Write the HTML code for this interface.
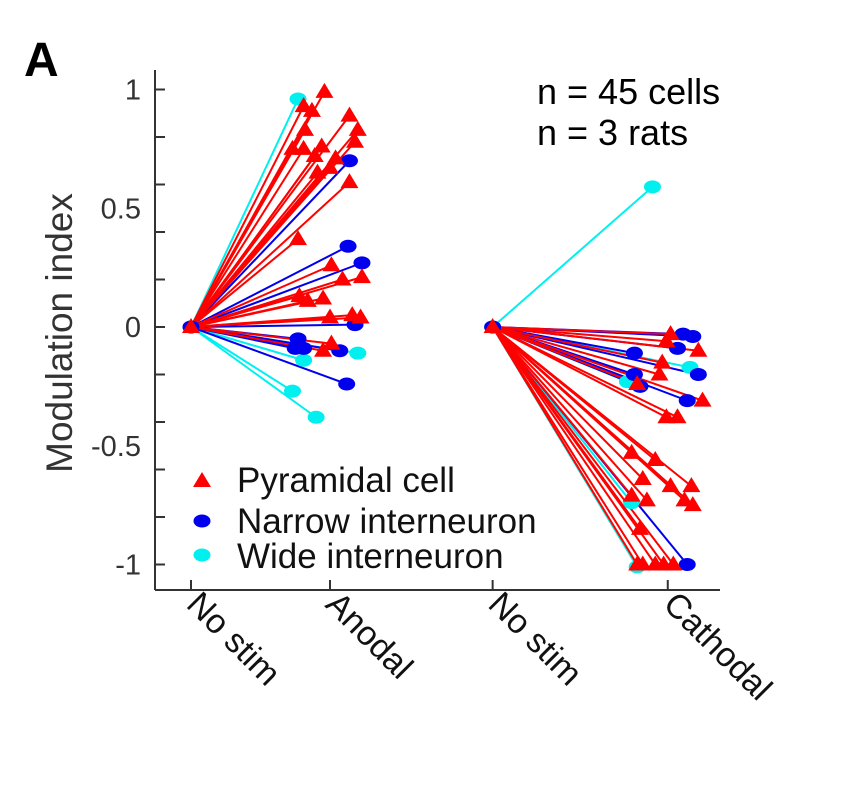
<!DOCTYPE html>
<html><head><meta charset="utf-8"><style>
body{margin:0;background:#fff;}
svg text{font-family:"Liberation Sans",Arial,sans-serif;}
</style></head><body>
<svg id="chart" width="843" height="790" viewBox="0 0 843 790">
<text x="24" y="76" font-size="48" font-weight="bold">A</text>
<text x="537" y="104" font-size="36">n = 45 cells</text>
<text x="537" y="145" font-size="36">n = 3 rats</text>
<g id="axes"></g>
<g id="lines"></g>
<g id="marks"></g>
<g id="legend"></g>
</svg>
<script>
const categories = ["No stim","Anodal","No stim","Cathodal"];
const categoryX = [0, 1, 2.17, 3.43];
const yTickLabels = [1, 0.5, 0, -0.5, -1];
const yMinorTicks = [1,0.8,0.6,0.4,0.2,0,-0.2,-0.4,-0.6,-0.8,-1];
const anodalOrigin = [0, 0];
const cathodalOrigin = [2.17, 0];
const anodalPyramidal = [[0.96,0.99],[0.81,0.93],[0.87,0.91],[1.14,0.89],[1.20,0.83],[0.82,0.83],[1.18,0.78],[0.73,0.75],[0.81,0.75],[0.94,0.76],[1.04,0.71],[0.89,0.72],[1.00,0.67],[0.91,0.65],[1.14,0.61],[0.77,0.37],[1.01,0.26],[1.23,0.21],[1.09,0.20],[0.78,0.13],[0.95,0.12],[0.84,0.11],[1.00,0.04],[1.16,0.05],[1.22,0.04],[1.01,-0.07],[0.95,-0.10]];
const anodalNarrow = [[1.14,0.70],[1.13,0.34],[1.23,0.27],[1.18,0.01],[0.77,-0.05],[0.75,-0.09],[0.81,-0.09],[1.07,-0.10],[1.12,-0.24]];
const anodalWide = [[0.77,0.96],[0.81,-0.14],[1.20,-0.11],[0.73,-0.27],[0.90,-0.38]];
const cathodalPyramidal = [[3.45,-0.03],[3.42,-0.06],[3.65,-0.10],[3.39,-0.15],[3.37,-0.20],[3.21,-0.24],[3.68,-0.31],[3.42,-0.38],[3.50,-0.38],[3.17,-0.53],[3.34,-0.56],[3.25,-0.64],[3.45,-0.67],[3.60,-0.67],[3.17,-0.71],[3.28,-0.73],[3.55,-0.73],[3.61,-0.75],[3.23,-0.85],[3.25,-1.0],[3.34,-1.0],[3.40,-1.0],[3.47,-1.0],[3.21,-1.0]];
const cathodalNarrow = [[3.54,-0.03],[3.61,-0.04],[3.50,-0.09],[3.19,-0.11],[3.65,-0.20],[3.19,-0.20],[3.23,-0.25],[3.57,-0.31],[3.57,-1.0]];
const cathodalWide = [[3.32,0.59],[3.59,-0.17],[3.17,-0.74],[3.21,-1.01],[3.14,-0.23]];

const NS="http://www.w3.org/2000/svg";
const xs = v => 191 + v*139;
const ys = v => 327 - v*237.5;
function mk(parent, tag, attrs){const e=document.createElementNS(NS,tag);for(const k in attrs)e.setAttribute(k,attrs[k]);parent.appendChild(e);return e;}
const axes=document.getElementById('axes'), lines=document.getElementById('lines'), marks=document.getElementById('marks'), legend=document.getElementById('legend');

let el=mk(axes,'line',{x1:155,y1:70,x2:155,y2:590,stroke:'#333','stroke-width':2});


el=mk(axes,'line',{x1:155,y1:590,x2:720,y2:590,stroke:'#333','stroke-width':2});


yMinorTicks.forEach(v=>{
  const t=mk(axes,'line',{x1:155,y1:ys(v),x2:165,y2:ys(v),stroke:'#333','stroke-width':2});
  
  
});
yTickLabels.forEach(v=>{
  const t=mk(axes,'text',{x:141,y:ys(v)+10,'font-size':29,'text-anchor':'end',fill:'#333'});
  t.textContent=String(v);
  
  
});
const yt=mk(axes,'text',{x:0,y:0,'font-size':37,'text-anchor':'middle',fill:'#333',transform:'translate(72,333) rotate(-90)'});
yt.textContent='Modulation index';


categories.forEach((c,i)=>{
  const x=xs(categoryX[i]);
  const t=mk(axes,'line',{x1:x,y1:590,x2:x,y2:580,stroke:'#333','stroke-width':2});
  
  
  const l=mk(axes,'text',{x:0,y:0,'font-size':34,fill:'#111',transform:`translate(${x-6},${606}) rotate(45)`});
  l.textContent=c;
  
  
});

function tri(parent,cx,cy){return mk(parent,'polygon',{points:`${cx-9},${cy+6} ${cx+9},${cy+6} ${cx},${cy-9}`,fill:'#ff0000'});}
function dot(parent,cx,cy,col){return mk(parent,'ellipse',{cx:cx,cy:cy,rx:8.5,ry:6.5,fill:col});}
const groups=[
 [anodalWide,anodalOrigin,'#00f0f0','dot','wide'],
 [anodalNarrow,anodalOrigin,'#0000ee','dot','narrow'],
 [anodalPyramidal,anodalOrigin,'#ff0000','tri','pyramidal'],
 [cathodalWide,cathodalOrigin,'#00f0f0','dot','wide'],
 [cathodalNarrow,cathodalOrigin,'#0000ee','dot','narrow'],
 [cathodalPyramidal,cathodalOrigin,'#ff0000','tri','pyramidal']];
groups.forEach(g=>{
  const [data,o,col,shape,nm]=g;
  data.forEach(p=>{
    const ln=mk(lines,'line',{x1:xs(o[0]),y1:ys(o[1]),x2:xs(p[0]),y2:ys(p[1]),stroke:col,'stroke-width':2});
    
    
  });
});
groups.forEach(g=>{
  const [data,o,col,shape,nm]=g;
  [o].concat(data).forEach(p=>{
    const m= shape==='tri'?tri(marks,xs(p[0]),ys(p[1])):dot(marks,xs(p[0]),ys(p[1]),col);
    
    
  });
});

const legendItems=[['Pyramidal cell','tri','#ff0000',481,492],['Narrow interneuron','dot','#0000ee',521,533],['Wide interneuron','dot','#00f0f0',555,568]];
legendItems.forEach(it=>{
  const m= it[1]==='tri'?tri(legend,202,it[3]):dot(legend,202,it[3],it[2]);
  
  
  const t=mk(legend,'text',{x:237,y:it[4],'font-size':35,fill:'#111'});
  t.textContent=it[0];
  
  
});
</script>
</body></html>
